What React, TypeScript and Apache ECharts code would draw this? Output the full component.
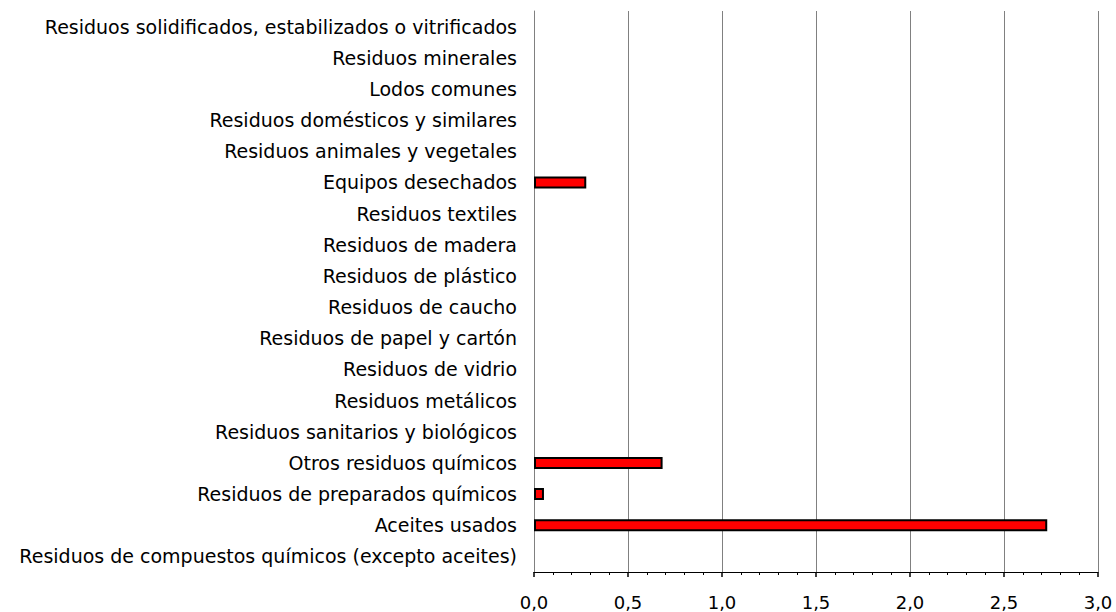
import React, { useEffect, useRef } from "react";
import * as echarts from "echarts";

const categories = [
  "Residuos de compuestos químicos (excepto aceites)",
  "Aceites usados",
  "Residuos de preparados químicos",
  "Otros residuos químicos",
  "Residuos sanitarios y biológicos",
  "Residuos metálicos",
  "Residuos de vidrio",
  "Residuos de papel y cartón",
  "Residuos de caucho",
  "Residuos de plástico",
  "Residuos de madera",
  "Residuos textiles",
  "Equipos desechados",
  "Residuos animales y vegetales",
  "Residuos domésticos y similares",
  "Lodos comunes",
  "Residuos minerales",
  "Residuos solidificados, estabilizados o vitrificados",
];

const values = [0, 2.73, 0.053, 0.684, 0, 0, 0, 0, 0, 0, 0, 0, 0.278, 0, 0, 0, 0, 0];

const FONT = "'DejaVu Sans', sans-serif";

export default function App() {
  const ref = useRef<HTMLDivElement>(null);
  useEffect(() => {
    if (!ref.current) return;
    const chart = echarts.init(ref.current, null, { renderer: "svg" });
    chart.setOption({
      animation: false,
      backgroundColor: "#ffffff",
      grid: {
        left: 534,
        right: 18,
        top: 11,
        bottom: 40,
        containLabel: false,
        outerBoundsMode: "none",
      },
      xAxis: {
        type: "value",
        min: 0,
        max: 3,
        interval: 0.5,
        axisLine: { show: true, lineStyle: { color: "#000", width: 1 } },
        axisTick: { show: true, length: 5, lineStyle: { color: "#000", width: 1.5 } },
        minorTick: { show: true, splitNumber: 5, length: 3, lineStyle: { color: "#000" } },
        splitLine: { show: true, lineStyle: { color: "#808080", width: 1 } },
        axisLabel: {
          color: "#000",
          fontFamily: FONT,
          fontSize: 18,
          margin: 21,
          formatter: (v: number) => v.toFixed(1).replace(".", ","),
        },
      },
      yAxis: {
        type: "category",
        data: categories,
        axisLine: { show: true, lineStyle: { color: "#808080", width: 1 } },
        axisTick: { show: false },
        axisLabel: { color: "#000", fontFamily: FONT, fontSize: 19, margin: 17 },
      },
      series: [
        {
          type: "bar",
          data: values.map((v) => (v === 0 ? "-" : v)),
          barWidth: 12,
          itemStyle: { color: "#ff0000", borderColor: "#000", borderWidth: 2 },
        },
      ],
    });
    return () => chart.dispose();
  }, []);
  return (
    <div
      ref={ref}
      style={{ position: "absolute", left: 0, top: 0, width: 1116, height: 612 }}
    />
  );
}
